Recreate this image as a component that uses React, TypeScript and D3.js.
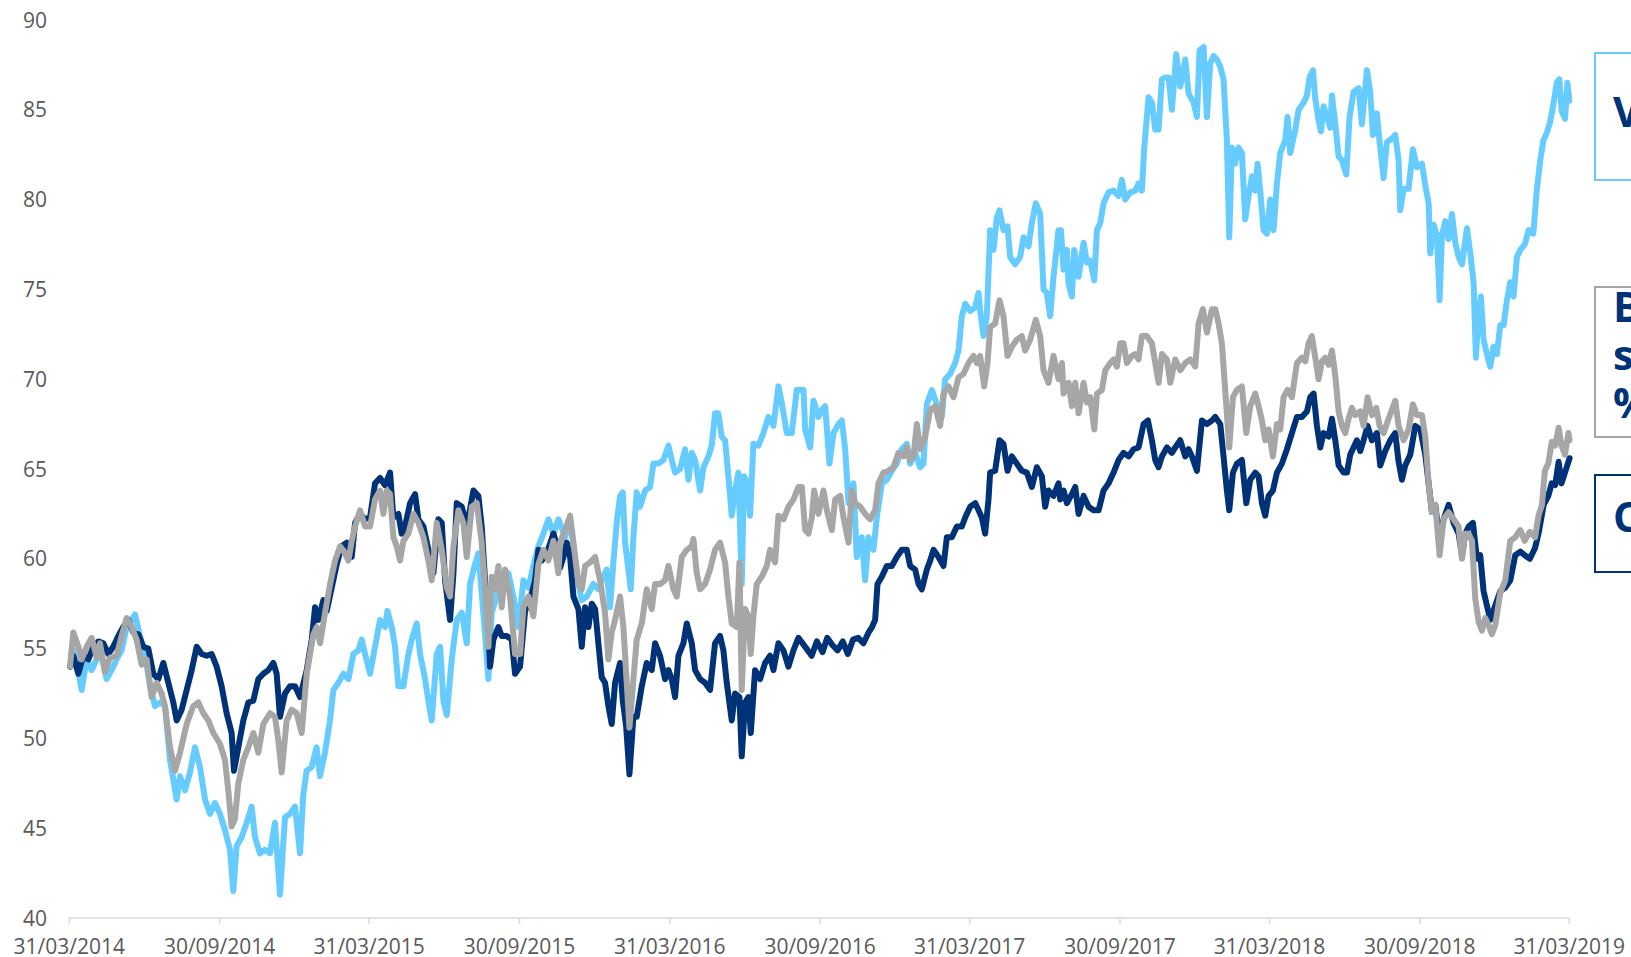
import React from "react";
import * as d3 from "d3";

// x = weeks since 31/03/2014, y = value
const lightBlueSeries: [number, number][] = [
[0.12,54.0],[0.70,54.9],[1.28,54.2],[2.15,52.7],[3.02,54.4],[3.89,53.8],[4.76,54.4],[5.62,54.6],[6.49,53.3],[7.36,53.8],[8.23,54.4],[9.10,54.9],[9.97,56.2],[10.84,56.6],[11.42,56.9],[12.29,55.7],[13.16,54.7],[14.03,52.9],[14.90,51.8],[15.77,52.0],[16.64,51.8],[17.51,48.8],[18.09,47.7],[18.67,46.6],[19.25,47.9],[20.12,47.1],[20.99,48.1],[21.86,49.5],[22.73,48.4],[23.60,46.6],[24.47,45.8],[25.33,46.4],[26.20,45.8],[27.07,44.9],[27.94,43.8],[28.52,41.5],[29.10,44.0],[29.97,44.5],[30.84,45.3],[31.71,46.2],[32.29,44.5],[33.16,43.6],[34.03,43.8],[34.90,43.6],[35.77,45.3],[36.64,41.3],[37.51,45.6],[38.38,45.8],[39.25,46.2],[40.12,43.6],[40.70,46.9],[41.28,48.2],[42.14,48.4],[43.01,49.5],[43.59,47.9],[44.46,49.2],[45.33,51.0],
[45.93,52.7],[46.80,53.1],[47.67,53.6],[48.54,53.3],[49.41,54.7],[50.27,54.9],[50.85,55.5],[51.43,54.7],[52.30,53.6],[53.17,55.1],[54.04,56.6],[54.91,56.2],[55.32,57.1],[56.07,56.2],[56.65,55.1],[57.23,52.9],[58.10,52.9],[58.97,54.7],[59.55,55.5],[60.42,56.4],[61.00,54.7],[61.87,53.3],[62.45,52.1],[63.03,51.0],[63.90,54.7],[64.48,55.1],[65.06,52.1],[65.64,51.3],[66.51,54.4],[67.38,56.6],[68.25,57.0],[69.12,55.3],[69.70,58.6],[70.56,59.7],[71.14,60.3],[71.72,58.1],[72.30,55.8],[72.88,53.3],[73.46,57.0],[74.33,57.9],[74.91,58.8],[75.78,59.2],[76.36,59.2],[77.23,57.9],[78.10,56.2],[78.97,58.8],[79.84,58.4],[80.71,59.6],[81.58,60.7],[82.45,61.4],[83.32,62.2],[84.19,61.4],[85.06,62.2],
[86.22,61.2],[87.09,62.2],[87.67,60.7],[88.54,58.6],[89.12,57.7],[89.99,57.9],[91.15,58.6],[92.01,58.3],[92.88,59.0],[93.46,59.4],[94.04,57.3],[94.62,59.8],[95.20,62.0],[95.78,63.5],[96.25,63.7],[96.65,60.9],[97.23,59.4],[97.64,58.3],[98.10,61.2],[98.68,63.7],[99.26,62.9],[100.13,63.8],[101.00,64.0],[101.58,65.3],[102.45,65.3],[103.32,65.5],[104.19,66.3],[104.77,65.5],[105.35,64.8],[106.22,65.0],[107.09,66.1],[107.67,64.4],[108.25,65.9],[108.83,65.5],[109.70,63.8],[110.28,65.1],[111.14,65.7],[111.72,66.3],[112.30,68.1],[112.88,68.1],[113.46,66.8],[114.04,66.6],[114.62,64.6],[115.20,62.4],[115.78,63.8],[116.36,64.8],[116.94,58.6],[117.35,64.6],[117.93,64.2],[118.39,62.4],[118.97,66.4],[119.84,66.3],[120.71,67.0],[121.58,67.9],[122.45,67.4],[123.32,69.6],[123.90,68.7],[124.77,67.0],[125.64,67.0],[126.51,69.4],
[127.68,69.4],[127.97,67.2],[128.84,66.2],[129.42,68.8],[130.29,67.9],[130.87,68.3],[131.45,68.5],[132.20,65.3],[132.90,67.0],[133.77,67.5],[134.35,67.7],[134.93,66.1],[135.51,63.1],[136.37,64.2],[136.95,60.1],[137.82,61.2],[138.40,58.8],[138.98,61.2],[139.85,60.5],[140.43,62.3],[141.30,64.2],[142.17,64.4],[143.04,64.9],[143.91,65.3],[144.78,66.1],[145.65,66.4],[146.23,65.3],[147.10,65.9],[147.97,65.1],[148.55,65.3],[149.13,68.6],[150.00,69.4],[150.87,68.6],[151.74,67.9],[152.32,70.0],[153.19,70.3],[154.06,70.9],[154.64,71.6],[155.22,73.5],[155.80,74.2],[156.67,73.8],[157.54,74.0],[158.12,74.8],[158.41,73.8],[158.98,72.4],[159.56,73.5],[160.14,78.3],[160.72,77.2],[161.30,79.0],[161.77,79.4],[162.46,78.3],[163.16,78.5],[163.62,76.8],[164.49,76.4],[165.36,76.8],[165.94,77.9],[166.81,77.4],[167.39,78.7],[168.08,79.8],[168.84,79.2],[169.42,75.0],[170.00,74.8],[170.58,73.5],[171.16,75.7],[172.03,78.3],
[172.45,78.3],[172.91,76.1],[173.49,77.2],[173.78,75.3],[174.36,74.6],[174.76,77.2],[175.52,75.7],[176.39,77.6],[176.97,76.5],[177.55,76.6],[178.24,75.5],[178.71,78.3],[179.29,78.7],[179.86,79.8],[180.73,80.4],[181.60,80.5],[182.47,80.2],[183.05,81.1],[183.63,80.0],[184.50,80.4],[185.37,80.5],[185.95,80.9],[186.53,80.5],[186.94,82.9],[187.69,85.7],[188.27,85.4],[188.85,83.9],[189.43,83.9],[190.01,86.7],[190.59,86.8],[191.17,86.8],[191.75,85.0],[192.50,88.1],[193.20,86.3],[194.07,87.8],[194.65,85.9],[195.52,85.4],[196.10,84.6],[196.56,88.3],[197.26,88.5],[197.84,84.6],[198.42,87.6],[199.00,88.0],[199.58,87.8],[200.16,87.4],[200.73,86.7],[201.31,83.3],[201.72,77.9],[202.18,82.9],[202.76,82.0],[203.34,82.9],[203.92,82.6],[204.50,78.9],[205.08,80.2],[205.66,81.3],[206.24,80.5],[206.65,82.0],[207.11,80.5],[207.69,78.3],[208.27,78.1],[208.85,80.0],[209.43,78.3],[210.01,80.9],[210.59,82.6],[211.46,83.3],[211.86,84.6],[212.33,82.6],[213.20,83.9],[213.78,85.0],
[214.65,85.4],[215.23,85.8],[215.69,86.8],[216.27,87.2],[216.68,85.6],[217.26,84.4],[217.66,83.8],[218.13,85.2],[218.71,84.6],[219.29,84.0],[219.58,85.8],[220.16,84.2],[220.74,82.4],[221.32,82.2],[222.07,81.4],[222.65,84.6],[223.34,86.0],[224.21,86.2],[224.79,84.2],[225.66,87.2],[226.24,86.0],[226.71,83.6],[227.40,84.8],[227.87,83.2],[228.56,81.2],[229.14,83.2],[230.01,83.4],[230.59,83.6],[231.17,82.2],[231.46,79.4],[232.04,80.6],[232.91,80.6],[233.66,82.8],[234.36,81.8],[235.23,82.0],[235.81,80.8],[236.39,79.8],[236.68,77.0],[237.26,78.6],[237.84,78.0],[238.30,74.4],[238.71,78.0],[239.29,78.8],[239.87,77.8],[240.45,79.2],[241.03,77.6],[241.61,76.8],[242.19,76.4],[243.06,78.4],[243.64,77.0],[244.21,75.4],[244.62,71.2],[245.08,73.8],[245.49,74.6],[245.95,72.2],[246.53,71.4],[247.11,70.7],[247.69,71.8],[248.27,71.4],[248.85,73.0],[249.43,73.0],[250.01,74.4],[250.59,75.4],[251.17,74.6],[251.75,76.8],[252.33,77.2],
[253.10,77.5],[253.80,78.3],[254.60,78.1],[255.19,80.5],[255.77,82.1],[256.35,83.3],[256.93,83.7],[257.51,84.3],[258.09,85.3],[258.67,86.5],[259.13,86.7],[259.54,84.9],[260.12,84.5],[260.52,86.5],[260.87,85.5]
];

const navySeries: [number, number][] = [
[0.12,54.0],[0.70,54.6],[1.57,53.6],[2.44,54.6],[3.31,54.4],[4.18,55.1],[5.04,55.4],[5.91,55.3],[6.78,54.7],[7.65,55.1],[8.52,55.7],[9.39,56.2],[10.26,56.6],[11.13,55.9],[12.00,55.8],[12.87,55.1],[13.74,55.0],[14.61,53.6],[15.48,53.3],[16.35,54.2],[17.22,53.1],[18.09,52.0],[18.67,51.0],[19.54,51.6],[20.41,52.7],[21.28,53.8],[22.15,55.1],[23.02,54.7],[23.89,54.6],[24.76,54.7],[25.62,54.0],[26.49,52.9],[27.36,51.4],[28.23,50.3],[28.64,48.2],[29.39,49.5],[30.26,51.0],[31.13,52.0],[32.00,52.1],[32.87,53.3],[33.74,53.6],[34.61,53.8],[35.48,54.2],[36.06,53.6],[36.64,51.2],[37.51,52.5],[38.38,52.9],[39.25,52.9],[40.12,52.3],
[41.29,53.8],[42.16,55.5],[42.74,57.3],[43.32,56.6],[44.19,57.7],[44.77,57.1],[45.64,58.4],[46.51,59.7],[47.38,60.7],[48.25,60.9],[49.12,60.1],[49.70,62.0],[50.56,62.5],[51.43,62.2],[52.30,62.3],[53.17,64.2],[54.04,64.5],[54.91,64.1],[55.78,64.8],[56.36,62.3],[57.23,62.5],[57.81,61.4],[58.39,61.8],[59.26,63.1],[60.13,63.6],[60.71,62.2],[61.58,61.8],[62.45,60.5],[63.32,59.2],[64.19,62.2],[64.77,62.0],[65.35,58.8],[66.22,56.6],[66.80,59.2],[67.38,63.1],[68.25,62.9],[69.12,61.8],[70.28,63.8],[71.14,63.5],[71.72,61.8],[72.30,58.8],[72.88,56.2],[73.17,54.0],[73.75,55.5],[74.62,56.2],[75.20,55.7],[76.07,55.7],[76.94,55.5],[77.52,53.6],[78.39,54.0],[79.26,57.1],[80.13,57.7],[81.00,58.8],[81.58,60.5],[82.16,59.9],[83.03,60.3],[84.19,61.4],[85.06,60.5],
[85.35,59.5],[85.93,60.1],[86.51,60.9],[87.09,60.1],[87.67,57.9],[88.54,57.2],[89.12,55.1],[89.70,57.3],[90.28,56.2],[90.86,57.5],[91.44,57.2],[92.01,55.3],[92.59,53.4],[93.17,53.1],[93.75,51.8],[94.33,50.8],[94.91,53.1],[95.78,54.2],[96.25,52.1],[96.83,50.7],[97.41,48.0],[98.10,51.2],[98.68,51.2],[99.55,52.9],[100.42,54.2],[101.29,53.8],[101.87,55.3],[102.74,54.6],[103.61,53.3],[104.19,53.8],[104.77,53.3],[105.35,52.3],[105.93,54.6],[106.80,55.3],[107.38,56.4],[108.25,55.3],[108.83,53.8],[109.70,53.3],[110.57,53.1],[111.43,52.7],[112.30,55.3],[113.17,55.7],[113.75,54.9],[114.33,53.1],[115.20,51.0],[115.78,52.5],[116.54,52.3],[116.94,49.0],[117.52,52.0],[118.10,52.3],[118.51,50.3],[119.26,53.8],[120.13,53.3],[121.00,54.2],[121.87,54.6],[122.45,53.8],[123.32,55.3],[124.19,54.9],[125.06,54.0],[125.93,54.9],[126.80,55.6],
[128.20,55.0],[129.10,54.6],[130.00,55.4],[131.00,54.8],[131.80,55.6],[132.70,55.2],[133.60,54.9],[134.50,55.4],[135.40,54.7],[136.30,55.5],[137.20,55.6],[138.10,55.3],[139.00,55.9],[139.60,56.2],
[140.14,56.6],[140.55,58.6],[141.30,59.0],[142.17,59.6],[143.04,59.6],[143.91,60.1],[144.78,60.5],[145.65,60.5],[146.23,59.6],[147.10,59.4],[147.68,58.6],[148.26,58.3],[149.13,59.4],[149.71,59.9],[150.29,60.5],[151.16,60.1],[152.03,59.6],[152.61,61.2],[153.48,61.2],[154.35,61.8],[155.22,61.8],[155.80,62.3],[156.67,62.9],[157.54,63.1],[158.12,62.7],[158.69,62.3],[159.27,61.4],[159.85,63.3],[160.14,64.8],[161.01,64.9],[161.77,66.6],[162.46,66.4],[163.16,64.9],[163.91,65.7],[164.78,65.3],[165.65,64.9],[166.52,64.8],[167.39,64.0],[168.26,65.1],[169.13,64.6],[169.71,62.9],[170.29,63.8],[171.16,63.5],[172.03,64.2],
[172.33,63.3],[172.91,63.8],[173.49,63.1],[174.36,63.6],[174.94,64.0],[175.52,62.5],[176.39,63.5],[177.26,62.9],[178.13,62.7],[179.00,62.7],[179.86,63.8],[180.73,64.2],[181.60,64.8],[182.47,65.5],[183.34,65.9],[184.21,65.7],[185.08,66.1],[185.95,66.2],[186.82,67.5],[187.58,67.7],[188.27,66.6],[188.85,65.5],[189.43,65.1],[190.01,65.7],[190.88,66.2],[191.75,65.9],[192.33,66.2],[193.20,66.6],[194.07,65.7],[194.65,66.1],[195.23,65.7],[196.10,64.9],[196.97,67.7],[197.84,67.5],[198.71,67.7],[199.29,67.9],[200.16,67.5],[200.73,65.7],[201.31,63.8],[201.72,62.7],[202.36,64.8],[203.05,65.3],[203.92,65.5],[204.68,63.1],[205.37,64.4],[206.24,64.8],[206.82,64.6],[207.40,63.1],[207.98,62.4],[208.56,63.5],[209.31,63.8],[210.01,64.8],[210.88,65.3],[211.75,66.1],[212.62,67.0],[213.49,67.9],
[214.36,67.9],[215.23,68.2],[215.81,69.0],[216.39,69.2],[216.97,67.4],[217.55,66.2],[218.13,67.0],[219.00,66.8],[219.58,67.8],[220.16,66.6],[220.74,65.2],[221.61,64.8],[222.19,64.8],[222.76,65.8],[223.34,66.2],[223.92,66.6],[224.50,66.0],[225.08,66.6],[225.78,67.4],[226.53,66.6],[227.40,67.0],[227.98,65.2],[228.85,66.0],[229.72,66.6],[230.59,67.0],[231.17,65.4],[231.75,64.4],[232.33,65.2],[233.20,65.8],[234.07,67.4],[234.94,67.2],[235.81,65.8],[236.39,64.2],[236.97,62.6],[237.55,63.0],[238.30,61.0],[239.00,62.2],[239.87,63.0],[240.74,62.0],[241.61,61.4],[242.19,60.2],[242.77,61.4],[243.35,61.8],[244.10,62.0],[244.79,60.0],[245.37,60.2],[245.95,58.2],[246.53,57.4],[247.11,56.6],[247.98,57.4],[248.85,58.2],[249.72,58.4],[250.59,58.8],[251.46,60.2],[252.33,60.4],
[253.10,60.2],[254.00,60.0],[254.90,60.6],[255.50,61.4],[256.40,63.0],[257.20,63.5],[257.80,64.2],[258.40,64.1],[259.00,65.4],[259.50,64.2],[260.10,64.8],[260.70,65.4],[260.90,65.6]
];

const graySeries: [number, number][] = [
[0.12,54.0],[0.70,55.9],[1.57,55.1],[2.15,54.4],[3.02,55.1],[3.89,55.6],[4.76,54.5],[5.33,55.3],[6.20,53.7],[7.07,54.5],[8.23,54.6],[9.10,55.7],[9.97,56.7],[10.84,56.2],[11.71,55.5],[12.58,54.1],[13.45,54.4],[14.32,52.3],[15.19,53.1],[16.06,52.5],[16.64,51.8],[17.51,49.5],[18.38,48.2],[19.25,49.2],[20.41,50.8],[21.57,51.8],[22.44,52.0],[23.31,51.4],[24.18,51.0],[25.04,50.3],[26.20,49.7],[27.07,48.8],[27.65,47.1],[28.23,45.1],[28.81,45.5],[29.39,47.5],[30.26,48.8],[31.13,49.5],[32.00,50.3],[32.87,49.2],[33.74,50.8],[34.90,51.4],[35.77,51.2],[36.35,49.9],[36.93,48.1],[37.80,51.0],[38.67,51.6],[39.54,51.4],[40.41,50.3],
[41.29,53.6],[42.45,55.8],[43.03,56.2],[43.61,55.3],[44.48,57.0],[45.35,58.6],[46.22,59.9],[47.09,60.7],[47.96,60.3],[48.54,59.9],[49.12,61.0],[49.70,61.8],[50.56,62.7],[51.43,61.8],[52.30,61.8],[53.17,63.3],[54.04,63.8],[54.62,62.5],[55.20,63.8],[55.78,63.6],[56.36,61.2],[56.94,60.7],[57.52,59.9],[58.10,61.0],[58.97,61.4],[59.84,62.5],[60.71,62.0],[61.58,61.2],[62.45,59.9],[63.03,58.8],[63.90,62.0],[64.77,60.5],[65.64,58.4],[66.22,57.9],[66.80,60.7],[67.67,62.7],[68.54,62.0],[69.12,60.1],[69.99,62.9],[70.86,63.1],[71.72,60.9],[72.30,58.4],[72.88,55.1],[73.46,59.0],[74.04,58.3],[74.62,59.6],[75.20,57.3],[75.78,59.4],[76.65,57.9],[77.52,54.7],[78.39,54.7],[78.97,57.3],[79.84,57.9],[80.71,56.8],[81.58,59.7],[82.45,60.5],[83.32,59.9],[84.19,61.0],[85.06,59.2],
[85.35,60.9],[86.22,61.6],[87.09,62.4],[87.67,60.9],[88.54,58.6],[89.12,58.3],[89.70,59.6],[90.57,59.8],[91.44,60.1],[92.30,58.8],[93.17,57.0],[93.75,54.4],[94.33,55.9],[94.91,56.6],[95.78,57.9],[96.36,56.2],[96.94,53.1],[97.41,50.6],[98.10,53.3],[98.68,55.5],[99.55,56.4],[100.42,58.3],[101.29,57.2],[101.87,58.6],[102.74,58.6],[103.61,58.8],[104.19,59.6],[105.06,58.3],[105.64,57.9],[106.51,60.1],[107.38,60.5],[108.25,60.7],[108.54,61.1],[109.12,59.2],[109.70,58.3],[110.57,58.6],[111.43,59.4],[112.30,60.5],[113.17,60.9],[114.04,59.8],[114.62,57.9],[115.20,56.4],[116.07,56.2],[116.54,59.8],[116.94,52.7],[117.52,57.2],[118.10,56.8],[118.51,54.7],[118.97,56.8],[119.55,58.6],[120.42,59.0],[121.29,59.6],[121.87,60.5],[122.74,59.8],[123.32,62.4],[124.19,62.2],[125.06,62.9],[125.93,63.3],[126.80,64.0],
[127.39,64.0],[127.97,61.6],[128.55,61.4],[129.13,62.3],[129.53,63.8],[130.29,62.5],[131.16,63.8],[131.74,62.7],[132.61,61.6],[133.19,63.3],[134.06,63.5],[134.64,62.3],[135.51,60.9],[136.08,63.8],[136.66,63.1],[137.53,62.9],[138.40,62.5],[139.27,62.2],[140.14,62.7],[140.72,64.2],[141.59,64.8],[142.46,64.9],[143.33,65.1],[144.20,65.9],[145.07,65.7],[145.65,66.2],[146.23,65.5],[146.81,65.7],[147.39,67.5],[147.97,66.1],[148.84,66.8],[149.71,68.3],[150.58,68.5],[151.45,67.4],[152.03,69.2],[152.90,69.6],[153.77,69.0],[154.64,70.1],[155.51,70.3],[156.38,70.9],[157.24,71.3],[157.82,70.9],[158.40,71.3],[159.10,69.6],[159.68,70.9],[160.14,72.9],[161.01,73.1],[161.77,74.4],[162.46,73.5],[163.16,71.3],[163.91,71.8],[164.78,72.2],[165.65,72.4],[166.23,71.6],[167.10,72.2],[168.08,73.3],[168.84,72.4],[169.42,70.5],[170.29,69.8],[171.16,71.3],[172.03,70.0],
[172.62,70.9],[172.91,69.2],[173.78,69.8],[174.36,68.5],[174.94,69.8],[175.52,68.1],[176.39,69.8],[176.97,68.7],[177.55,69.0],[178.24,67.2],[178.71,69.2],[179.58,69.4],[180.16,70.5],[181.02,70.9],[181.60,71.1],[182.18,70.7],[182.76,72.0],[183.34,72.0],[183.92,70.9],[184.79,71.3],[185.37,71.4],[185.95,71.1],[186.53,72.4],[187.40,72.4],[188.27,72.0],[188.85,70.9],[189.43,69.8],[190.01,71.4],[190.88,71.1],[191.46,69.8],[192.33,71.1],[193.20,70.5],[194.07,70.9],[194.94,71.1],[195.81,70.7],[196.39,73.1],[197.14,73.9],[197.84,72.6],[198.71,73.9],[199.29,73.9],[199.86,73.1],[200.44,72.0],[201.02,69.4],[201.72,66.2],[202.36,69.0],[203.05,69.4],[203.92,69.6],[204.68,67.0],[205.37,68.5],[206.24,69.2],[206.82,68.5],[207.40,67.7],[207.98,66.6],[208.56,67.2],[209.31,65.7],[210.01,67.5],[210.59,67.2],[211.17,69.0],[211.86,69.4],[212.62,69.0],[213.49,70.9],
[214.36,71.2],[214.94,71.0],[215.52,72.0],[216.10,72.4],[216.68,71.2],[217.26,70.0],[217.84,71.0],[218.42,71.2],[219.00,70.8],[219.58,71.6],[220.16,70.2],[220.74,68.2],[221.32,67.4],[221.90,67.0],[222.47,67.8],[223.05,68.4],[223.63,68.0],[224.50,68.2],[225.08,67.4],[225.78,69.0],[226.53,68.0],[227.29,68.4],[227.87,67.4],[228.56,67.0],[229.43,67.8],[230.59,68.8],[231.17,67.4],[232.04,66.6],[232.91,67.2],[233.66,68.6],[234.36,68.0],[235.23,68.0],[235.81,66.8],[236.39,64.2],[236.97,62.6],[237.55,63.0],[238.30,60.2],[239.00,62.2],[239.87,62.6],[240.74,62.2],[241.61,61.8],[242.19,60.0],[242.77,61.4],[243.35,61.4],[243.93,61.0],[244.50,57.8],[245.08,56.5],[245.66,56.0],[246.24,56.7],[246.82,56.3],[247.40,55.8],[247.98,56.3],[248.85,58.1],[249.72,58.8],[250.59,61.0],[251.46,61.2],[252.33,61.6],
[253.10,61.0],[254.00,61.5],[254.90,61.2],[255.50,62.4],[256.10,63.0],[256.60,64.9],[257.20,65.3],[257.80,66.5],[258.40,66.3],[259.00,67.3],[259.50,66.3],[260.10,65.8],[260.70,67.0],[260.90,66.6]
];

const xTickLabels = ["31/03/2014","30/09/2014","31/03/2015","30/09/2015","31/03/2016","30/09/2016","31/03/2017","30/09/2017","31/03/2018","30/09/2018","31/03/2019"];
const yTicks = [40, 45, 50, 55, 60, 65, 70, 75, 80, 85, 90];

const legendBoxes = [
  { color: "#66CCFF", lines: ["Value"] },
  { color: "#A6A6A6", lines: ["Blend", "style", "%"] },
  { color: "#003278", lines: ["Core"] },
];

const W = 1631, H = 957;
const NAVY = "#003278";

export default function App() {
  const parse = d3.timeParse("%d/%m/%Y");
  const start = parse("31/03/2014") as Date;
  const end = parse("31/03/2019") as Date;
  const x = d3.scaleTime().domain([start, end]).range([69.3, 1569.3]);
  const y = d3.scaleLinear().domain([40, 90]).range([918, 20]);
  const toDate = (w: number) => new Date(start.getTime() + w * 7 * 86400000);
  const line = d3
    .line<[number, number]>()
    .x((d) => x(toDate(d[0])))
    .y((d) => y(d[1]));
  const fmt = d3.timeFormat("%d/%m/%Y");
  const tickDates = xTickLabels.map((s) => parse(s) as Date);
  const font = "'Open Sans', sans-serif";

  const series = [
    { data: lightBlueSeries, color: "#66CCFF" },
    { data: navySeries, color: NAVY },
    { data: graySeries, color: "#A6A6A6" },
  ];

  const boxes = [
    { top: 53, bottom: 180, baselines: [127] },
    { top: 287, bottom: 437, baselines: [322, 370, 418] },
    { top: 475, bottom: 572, baselines: [532] },
  ];

  return (
    <svg
      width={W}
      height={H}
      style={{ position: "fixed", left: 0, top: 0, background: "#fff" }}
      fontFamily={font}
    >
      <rect x={0} y={0} width={W} height={H} fill="#fff" />
      {yTicks.map((t) => (
        <text key={t} x={47} y={y(t)} dy="0.36em" textAnchor="end" fontSize={21} fill="#595959">
          {t}
        </text>
      ))}
      <line x1={x(start)} x2={x(end)} y1={y(40)} y2={y(40)} stroke="#D9D9D9" strokeWidth={1.5} />
      {tickDates.map((d, i) => (
        <g key={i}>
          <line x1={x(d)} x2={x(d)} y1={y(40)} y2={y(40) + 6} stroke="#D9D9D9" strokeWidth={1.5} />
          <text x={x(d)} y={954} textAnchor="middle" fontSize={21} fill="#595959">
            {fmt(d)}
          </text>
        </g>
      ))}
      {series.map((s, i) => (
        <path
          key={i}
          d={line(s.data) || ""}
          fill="none"
          stroke={s.color}
          strokeWidth={6}
          strokeLinejoin="round"
          strokeLinecap="round"
        />
      ))}
      {legendBoxes.map((b, i) => (
        <g key={i}>
          <rect
            x={1595}
            y={boxes[i].top}
            width={120}
            height={boxes[i].bottom - boxes[i].top}
            fill="#fff"
            stroke={b.color}
            strokeWidth={2}
          />
          {b.lines.map((t, j) => (
            <text key={j} x={1613} y={boxes[i].baselines[j]} fontSize={42} fontWeight="bold" fill={NAVY}>
              {t}
            </text>
          ))}
        </g>
      ))}
    </svg>
  );
}
